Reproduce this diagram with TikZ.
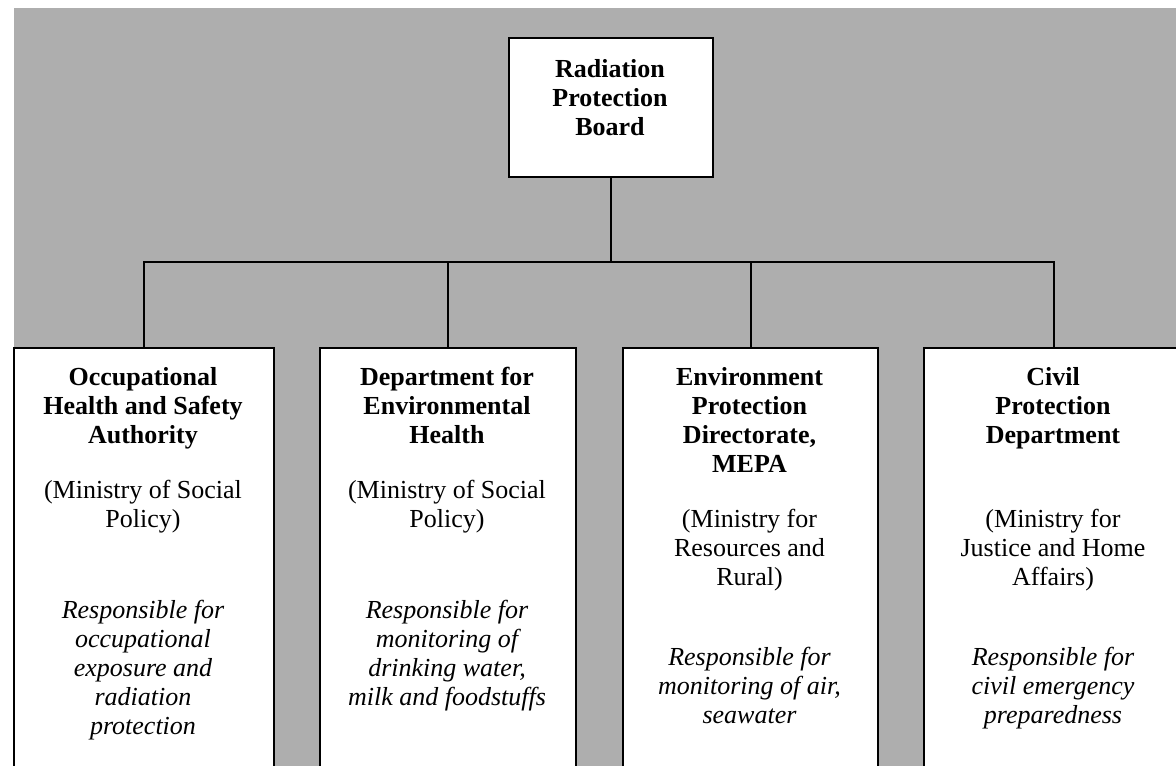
\documentclass[tikz,border=0pt]{standalone}
\usepackage{fontspec}
\setmainfont{Liberation Serif}
\definecolor{paper}{RGB}{174,174,174}
% place a column of centred lines, one node per line, 29pt apart
\newcommand\textlines[5]{%
  \foreach \txt [count=\k] in {#5}
    \node[#4] (#1-\k) at (#2,{#3+29*(\k-1)}) {\txt};}
\begin{document}
\begin{tikzpicture}[x=1pt,y=-1pt,
  frame/.style={draw=black,line width=2pt,fill=white,inner sep=0pt,anchor=north west},
  wire/.style={draw=black,line width=2pt},
  headtext/.style={font=\fontsize{26}{29}\selectfont\bfseries,anchor=base,inner sep=0pt},
  plaintext/.style={font=\fontsize{26}{29}\selectfont,anchor=base,inner sep=0pt},
  dutytext/.style={font=\fontsize{26}{29}\selectfont\itshape,anchor=base,inner sep=0pt}]
\useasboundingbox (0,0) rectangle (1176,766);
\fill[paper] (14,8) rectangle (1176,766);

% board and the four bodies below it
\node[frame,minimum width=204pt,minimum height=139pt] (board) at (508,37) {};
\node[frame,minimum width=260pt,minimum height=460pt] (b1) at (13,347) {};
\node[frame,minimum width=256pt,minimum height=460pt] (b2) at (319,347) {};
\node[frame,minimum width=255pt,minimum height=460pt] (b3) at (622,347) {};
\node[frame,minimum width=260pt,minimum height=460pt] (b4) at (923,347) {};

% connectors
\coordinate (bar) at (610,262);
\draw[wire] (board.south) -- (board.south |- bar);
\draw[wire] (b1.north) -- (b1.north |- bar) -- (b4.north |- bar) -- (b4.north);
\draw[wire] (b2.north |- bar) -- (b2.north);
\draw[wire] (b3.north |- bar) -- (b3.north);

% texts
\textlines{board}{610}{77}{headtext}{Radiation,Protection,Board}

\textlines{b1h}{143}{385}{headtext}{Occupational,Health and Safety,Authority}
\textlines{b1m}{143}{498}{plaintext}{{(Ministry of Social},{Policy)}}
\textlines{b1d}{143}{618}{dutytext}{Responsible for,occupational,exposure and,radiation,protection}

\textlines{b2h}{447}{385}{headtext}{Department for,Environmental,Health}
\textlines{b2m}{447}{498}{plaintext}{{(Ministry of Social},{Policy)}}
\textlines{b2d}{447}{618}{dutytext}{Responsible for,monitoring of,{drinking water,},milk and foodstuffs}

\textlines{b3h}{749.5}{385}{headtext}{Environment,Protection,{Directorate,},MEPA}
\textlines{b3m}{749.5}{527}{plaintext}{{(Ministry for},{Resources and},{Rural)}}
\textlines{b3d}{749.5}{665}{dutytext}{Responsible for,{monitoring of air,},seawater}

\textlines{b4h}{1053}{385}{headtext}{Civil,Protection,Department}
\textlines{b4m}{1053}{527}{plaintext}{{(Ministry for},{Justice and Home},{Affairs)}}
\textlines{b4d}{1053}{665}{dutytext}{Responsible for,civil emergency,preparedness}
\end{tikzpicture}
\end{document}
